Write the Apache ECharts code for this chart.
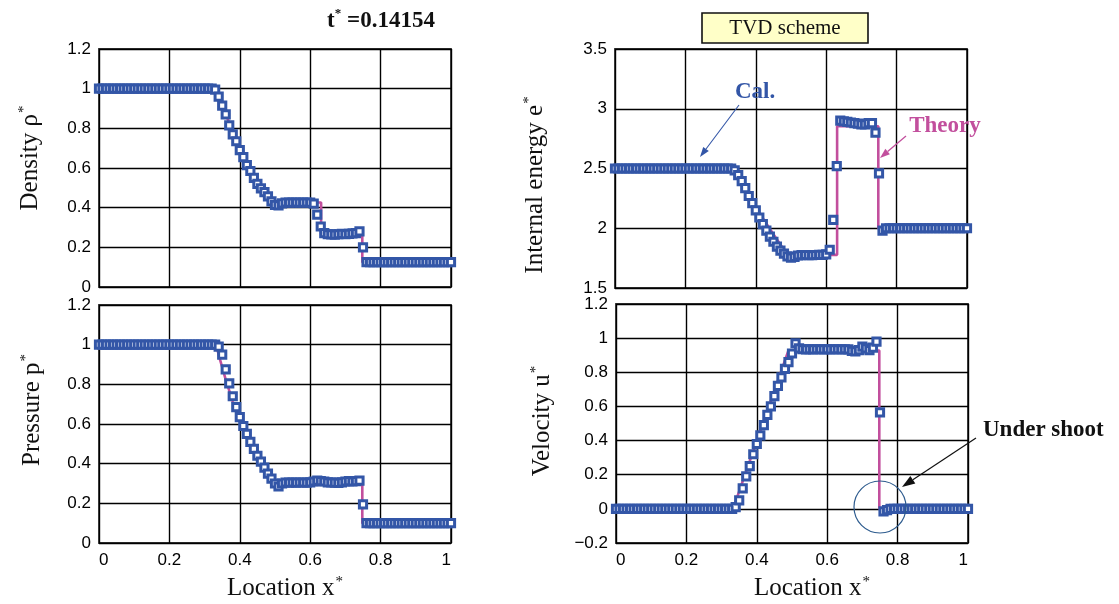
<!DOCTYPE html>
<html>
<head>
<meta charset="utf-8">
<script src="https://cdn.jsdelivr.net/npm/echarts@6/dist/echarts.min.js"></script>
<style>
  html, body { margin: 0; padding: 0; background: #fff; }
  #chart { width: 1119px; height: 604px; }
</style>
</head>
<body>
<div id="chart"></div>
<script>
// Sod shock tube, TVD scheme vs exact solution at t* = 0.14154

// cell locations x*
const locations = [
  0.00,0.01,0.02,0.03,0.04,0.05,0.06,0.07,0.08,0.09,
  0.10,0.11,0.12,0.13,0.14,0.15,0.16,0.17,0.18,0.19,
  0.20,0.21,0.22,0.23,0.24,0.25,0.26,0.27,0.28,0.29,
  0.30,0.31,0.32,0.33,0.34,0.35,0.36,0.37,0.38,0.39,
  0.40,0.41,0.42,0.43,0.44,0.45,0.46,0.47,0.48,0.49,
  0.50,0.51,0.52,0.53,0.54,0.55,0.56,0.57,0.58,0.59,
  0.60,0.61,0.62,0.63,0.64,0.65,0.66,0.67,0.68,0.69,
  0.70,0.71,0.72,0.73,0.74,0.75,0.76,0.77,0.78,0.79,
  0.80,0.81,0.82,0.83,0.84,0.85,0.86,0.87,0.88,0.89,
  0.90,0.91,0.92,0.93,0.94,0.95,0.96,0.97,0.98,0.99,
  1.00
];

// calculated values (TVD)
const densityCal = [
  1,1,1,1,1,1,1,1,1,1,
  1,1,1,1,1,1,1,1,1,1,
  1,1,1,1,1,1,1,1,1,1,
  1,1,1,0.995,0.96,0.915,0.87,0.815,0.77,0.735,
  0.69,0.655,0.615,0.585,0.55,0.52,0.497,0.478,0.457,0.432,
  0.414,0.412,0.422,0.426,0.425,0.425,0.426,0.425,0.425,0.426,
  0.425,0.42,0.365,0.305,0.272,0.266,0.265,0.264,0.266,0.268,
  0.266,0.268,0.27,0.272,0.28,0.2,0.125,0.125,0.125,0.125,
  0.125,0.125,0.125,0.125,0.125,0.125,0.125,0.125,0.125,0.125,
  0.125,0.125,0.125,0.125,0.125,0.125,0.125,0.125,0.125,0.125,
  0.125
];
const pressureCal = [
  1,1,1,1,1,1,1,1,1,1,
  1,1,1,1,1,1,1,1,1,1,
  1,1,1,1,1,1,1,1,1,1,
  1,1,1,1,0.99,0.95,0.875,0.805,0.74,0.685,
  0.635,0.59,0.55,0.51,0.475,0.44,0.41,0.38,0.35,0.325,
  0.3,0.285,0.3,0.305,0.304,0.305,0.304,0.305,0.305,0.304,
  0.306,0.31,0.315,0.312,0.31,0.306,0.305,0.304,0.303,0.306,
  0.31,0.312,0.31,0.312,0.315,0.195,0.1,0.1,0.1,0.1,
  0.1,0.1,0.1,0.1,0.1,0.1,0.1,0.1,0.1,0.1,
  0.1,0.1,0.1,0.1,0.1,0.1,0.1,0.1,0.1,0.1,
  0.1
];
const energyCal = [
  2.5,2.5,2.5,2.5,2.5,2.5,2.5,2.5,2.5,2.5,
  2.5,2.5,2.5,2.5,2.5,2.5,2.5,2.5,2.5,2.5,
  2.5,2.5,2.5,2.5,2.5,2.5,2.5,2.5,2.5,2.5,
  2.5,2.5,2.5,2.5,2.485,2.445,2.395,2.335,2.27,2.21,
  2.15,2.09,2.035,1.98,1.93,1.887,1.846,1.812,1.787,1.765,
  1.755,1.76,1.772,1.775,1.776,1.775,1.774,1.776,1.777,1.778,
  1.782,1.82,2.07,2.52,2.9,2.895,2.89,2.885,2.88,2.875,
  2.87,2.87,2.88,2.88,2.8,2.46,1.98,2,2,2,
  2,2,2,2,2,2,2,2,2,2,
  2,2,2,2,2,2,2,2,2,2,
  2
];
const velocityCal = [
  0,0,0,0,0,0,0,0,0,0,
  0,0,0,0,0,0,0,0,0,0,
  0,0,0,0,0,0,0,0,0,0,
  0,0,0,0,0.01,0.05,0.12,0.19,0.25,0.32,
  0.38,0.43,0.49,0.55,0.6,0.66,0.72,0.77,0.82,0.86,
  0.91,0.97,0.94,0.935,0.934,0.935,0.934,0.935,0.935,0.934,
  0.935,0.934,0.935,0.935,0.934,0.935,0.934,0.925,0.923,0.93,
  0.95,0.94,0.93,0.945,0.98,0.565,-0.015,-0.008,0,0,
  0,0,0,0,0,0,0,0,0,0,
  0,0,0,0,0,0,0,0,0,0,
  0
];

// exact solution, [x*, value] break points
const densityTheory = [
  [0,1],[0.3325,1],[0.34,0.963],[0.36,0.871],[0.38,0.785],[0.40,0.706],[0.42,0.634],
  [0.44,0.568],[0.46,0.508],[0.48,0.452],[0.49,0.4263],[0.631,0.4263],
  [0.631,0.2656],[0.748,0.2656],[0.748,0.125],[1,0.125]
];
const pressureTheory = [
  [0,1],[0.3325,1],[0.34,0.949],[0.36,0.824],[0.38,0.713],[0.40,0.615],[0.42,0.529],
  [0.44,0.453],[0.46,0.387],[0.48,0.329],[0.49,0.3031],[0.748,0.3031],
  [0.748,0.1],[1,0.1]
];
const energyTheory = [
  [0,2.5],[0.3325,2.5],[0.34,2.463],[0.36,2.365],[0.38,2.269],[0.40,2.175],[0.42,2.084],
  [0.44,1.994],[0.46,1.906],[0.48,1.82],[0.49,1.7776],[0.631,1.7776],
  [0.631,2.8535],[0.748,2.8535],[0.748,2.0],[1,2.0]
];
const velocityTheory = [
  [0,0],[0.3325,0],[0.49,0.9274],[0.748,0.9274],[0.748,0],[1,0]
];

// tick labels
const xTickLabels = ['0','0.2','0.4','0.6','0.8','1'];
const densityTickLabels = ['0','0.2','0.4','0.6','0.8','1','1.2'];
const pressureTickLabels = ['0','0.2','0.4','0.6','0.8','1','1.2'];
const energyTickLabels = ['1.5','2','2.5','3','3.5'];
const velocityTickLabels = ['\u22120.2','0','0.2','0.4','0.6','0.8','1','1.2'];

const CAL_BLUE = '#3356a7';
const THEORY_PINK = '#c24f9d';
const SERIF = '"Liberation Serif", "Times New Roman", serif';
const SANS = '"Liberation Sans", Arial, sans-serif';

const chart = echarts.init(document.getElementById('chart'), null, { renderer: 'canvas' });

const grids = [
  { left: 99,  top: 49,  width: 352, height: 238 },  // density
  { left: 615, top: 49,  width: 352, height: 239 },  // internal energy
  { left: 99,  top: 305, width: 352, height: 238 },  // pressure
  { left: 616, top: 304, width: 352, height: 239 }   // velocity
].map(g => Object.assign({
  show: true, borderColor: '#333', borderWidth: 1.8,
  containLabel: false, outerBoundsMode: 'none'
}, g));

function labelFrom(list, min, step) {
  return v => list[Math.round((v - min) / step)] ?? '';
}

function xAxis(gridIndex, showLabels) {
  return {
    type: 'value', gridIndex, min: 0, max: 1, interval: 0.2,
    axisLine: { show: false, onZero: false },
    axisTick: { show: false },
    splitLine: { show: true, lineStyle: { color: '#000', width: 1.4 } },
    axisLabel: {
      show: showLabels, margin: 9, fontSize: 17, fontFamily: SANS, color: '#000',
      alignMinLabel: 'left', alignMaxLabel: 'right',
      formatter: labelFrom(xTickLabels, 0, 0.2)
    }
  };
}

function yAxis(gridIndex, min, max, step, labels) {
  return {
    type: 'value', gridIndex, min, max, interval: step,
    axisLine: { show: false, onZero: false },
    axisTick: { show: false },
    splitLine: { show: true, lineStyle: { color: '#000', width: 1.4 } },
    axisLabel: {
      margin: 8, fontSize: 17, fontFamily: SANS, color: '#000',
      padding: [4, 0, 0, 0],
      formatter: labelFrom(labels, min, step)
    }
  };
}

function pairs(xs, ys) { return xs.map((x, i) => [x, ys[i]]); }

function theorySeries(idx, data) {
  return {
    type: 'line', xAxisIndex: idx, yAxisIndex: idx, data,
    symbol: 'none', z: 2, silent: true,
    lineStyle: { color: THEORY_PINK, width: 2.6 }
  };
}
function calSeries(idx, values) {
  return {
    type: 'scatter', xAxisIndex: idx, yAxisIndex: idx,
    data: pairs(locations, values),
    symbol: 'rect', symbolSize: 7.2, z: 3, silent: true,
    itemStyle: { color: '#ffffff', borderColor: CAL_BLUE, borderWidth: 3, opacity: 1 }
  };
}

// axis title with a superscript star
function axisTitle(x, y, main, rotated) {
  return {
    type: 'text', x, y, rotation: rotated ? Math.PI / 2 : 0, z: 10,
    style: {
      text: '{m|' + main + '}{s|*}',
      align: 'center', verticalAlign: 'middle',
      rich: {
        m: { fontFamily: SERIF, fontSize: 25, lineHeight: 30, fill: '#111' },
        s: { fontFamily: SERIF, fontSize: 15, lineHeight: 15, verticalAlign: 'top', fill: '#111', padding: [2, 0, 0, 1] }
      }
    }
  };
}

function arrow(x1, y1, x2, y2, color, len, wid, lw) {
  const dx = x2 - x1, dy = y2 - y1, n = Math.hypot(dx, dy);
  const ux = dx / n, uy = dy / n;
  const bx = x2 - ux * len, by = y2 - uy * len;
  const px = -uy * wid / 2, py = ux * wid / 2;
  return [
    { type: 'line', z: 10, shape: { x1, y1, x2: bx, y2: by }, style: { stroke: color, lineWidth: lw } },
    { type: 'polygon', z: 10, shape: { points: [[x2, y2], [bx + px, by + py], [bx - px, by - py]] }, style: { fill: color } }
  ];
}

const graphics = [
  // time stamp
  {
    type: 'text', x: 381, y: 21, z: 10,
    style: {
      text: '{b|t}{s|*}{b| =0.14154}', align: 'center', verticalAlign: 'middle',
      rich: {
        b: { fontFamily: SERIF, fontSize: 23, fontWeight: 'bold', lineHeight: 27, fill: '#111' },
        s: { fontFamily: SERIF, fontSize: 13, fontWeight: 'bold', lineHeight: 13, verticalAlign: 'top', fill: '#111' }
      }
    }
  },
  // scheme box
  {
    type: 'rect', z: 10, shape: { x: 702, y: 13, width: 166, height: 30 },
    style: { fill: '#ffffc8', stroke: '#111', lineWidth: 1.6 }
  },
  {
    type: 'text', x: 785, y: 28.5, z: 11,
    style: { text: 'TVD scheme', align: 'center', verticalAlign: 'middle',
             fontFamily: SERIF, fontSize: 21, fill: '#111' }
  },
  axisTitle(30, 158, 'Density \u03c1', true),
  axisTitle(32, 410, 'Pressure p', true),
  axisTitle(535, 185, 'Internal energy e', true),
  axisTitle(542, 421, 'Velocity u', true),
  axisTitle(285, 588, 'Location x', false),
  axisTitle(812, 588, 'Location x', false),
  // annotations
  {
    type: 'text', x: 755, y: 92, z: 10,
    style: { text: 'Cal.', align: 'center', verticalAlign: 'middle',
             fontFamily: SERIF, fontSize: 23, fontWeight: 'bold', fill: CAL_BLUE }
  },
  ...arrow(739, 105, 700, 157, CAL_BLUE, 10, 7, 1.1),
  {
    type: 'text', x: 945, y: 126, z: 10,
    style: { text: 'Theory', align: 'center', verticalAlign: 'middle',
             fontFamily: SERIF, fontSize: 23, fontWeight: 'bold', fill: THEORY_PINK }
  },
  ...arrow(906, 136, 880, 158, THEORY_PINK, 10, 7, 1.3),
  {
    type: 'text', x: 983, y: 430, z: 10,
    style: { text: 'Under shoot', align: 'left', verticalAlign: 'middle',
             fontFamily: SERIF, fontSize: 23, fontWeight: 'bold', fill: '#111' }
  },
  ...arrow(976, 438, 902, 487, '#111', 13, 9, 1.2),
  {
    type: 'circle', z: 10, shape: { cx: 880, cy: 507, r: 26 },
    style: { fill: 'none', stroke: '#2d5b8e', lineWidth: 1.2 }
  }
];

chart.setOption({
  animation: false,
  backgroundColor: '#ffffff',
  grid: grids,
  xAxis: [xAxis(0, false), xAxis(1, false), xAxis(2, true), xAxis(3, true)],
  yAxis: [
    yAxis(0, 0, 1.2, 0.2, densityTickLabels),
    yAxis(1, 1.5, 3.5, 0.5, energyTickLabels),
    yAxis(2, 0, 1.2, 0.2, pressureTickLabels),
    yAxis(3, -0.2, 1.2, 0.2, velocityTickLabels)
  ],
  series: [
    theorySeries(0, densityTheory),  calSeries(0, densityCal),
    theorySeries(1, energyTheory),   calSeries(1, energyCal),
    theorySeries(2, pressureTheory), calSeries(2, pressureCal),
    theorySeries(3, velocityTheory), calSeries(3, velocityCal)
  ],
  graphic: graphics
});
</script>
</body>
</html>
